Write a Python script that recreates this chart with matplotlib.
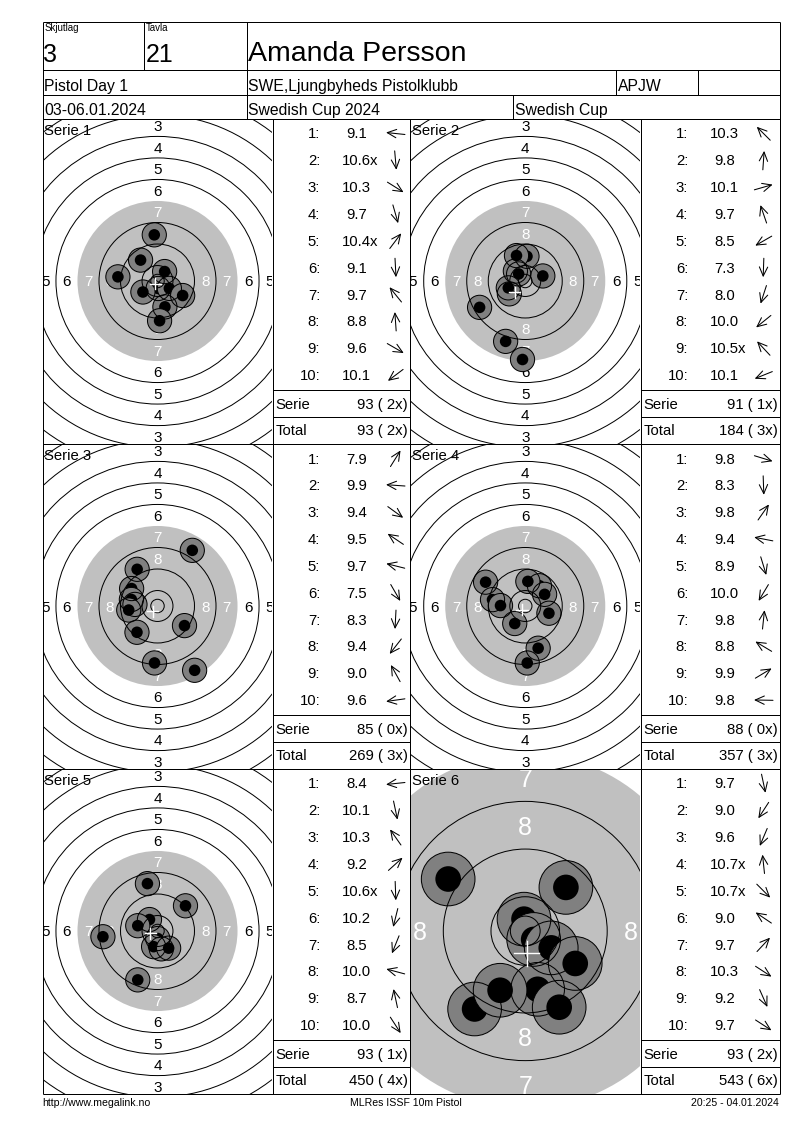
import numpy as np
import matplotlib.pyplot as plt
from matplotlib.patches import Circle

plt.rcParams['font.family'] = ['Liberation Sans', 'DejaVu Sans']

# header / footer texts
relay = "3"
lane = "21"
shooter = "Amanda Persson"
event = "Pistol Day 1"
club = "SWE,Ljungbyheds Pistolklubb"
short_code = "APJW"
dates = "03-06.01.2024"
competition = "Swedish Cup 2024"
cup = "Swedish Cup"
footer_left = "http://www.megalink.no"
footer_mid = "MLRes ISSF 10m Pistol"
footer_right = "20:25 - 04.01.2024"

# shots: decimal score ('x' = inner ten) and direction of the hit from the centre (deg)
s1_scores = ["9.1", "10.6x", "10.3", "9.7", "10.4x", "9.1", "9.7", "8.8", "9.6", "10.1"]
s1_angles = [174, -85, -32, -74, 53, -87, 129, 94, -30, -143]
s2_scores = ["10.3", "9.8", "10.1", "9.7", "8.5", "7.3", "8.0", "10.0", "10.5x", "10.1"]
s2_angles = [135, 86, 16, 109, -150, -92, -108, -141, 133, -158]
s3_scores = ["7.9", "9.9", "9.4", "9.5", "9.7", "7.5", "8.3", "9.4", "9.0", "9.6"]
s3_angles = [58, 176, -36, 146, 166, -60, -93, -128, 119, -172]
s4_scores = ["9.8", "8.3", "9.8", "9.4", "8.9", "10.0", "9.8", "8.8", "9.9", "9.8"]
s4_angles = [-17, -88, 55, 169, -73, -121, 84, 149, 31, 179]
s5_scores = ["8.4", "10.1", "10.3", "9.2", "10.6x", "10.2", "8.5", "10.0", "8.7", "10.0"]
s5_angles = [-174, -78, 125, 42, -88, -104, -112, 165, 102, -57]
s6_scores = ["9.7", "9.0", "9.6", "10.7x", "10.7x", "9.0", "9.7", "10.3", "9.2", "9.7"]
s6_angles = [-78, -123, -113, 96, -45, 146, 47, -33, -66, -33]

series_scores = [s1_scores, s2_scores, s3_scores, s4_scores, s5_scores, s6_scores]
series_angles = [s1_angles, s2_angles, s3_angles, s4_angles, s5_angles, s6_angles]

W, H = 800, 1130
LEFT, RIGHT, TOP, BOTTOM = 42.5, 779.5, 21.5, 1093.5
PANEL_H = 325
GRAY = '#c0c0c0'
SHOT = '#808080'
LW = 0.72
FS = 10.7


def ring_radius(n):
    # ISSF 10m air pistol target, mm
    return 5.75 + (10 - n) * 8.0


fig = plt.figure(figsize=(8, 11.3), dpi=100)
fig.patch.set_facecolor('white')
ax = fig.add_axes([0, 0, 1, 1])
ax.set_xlim(0, W)
ax.set_ylim(H, 0)
ax.axis('off')
ax.set_zorder(5)


def draw_target(num, box, scores, angles, scale, label_fs):
    px0, py0, px1, py1 = box
    tax = fig.add_axes([px0 / W, 1 - py1 / H, (px1 - px0) / W, (py1 - py0) / H])
    hw = (px1 - px0) / 2 / scale
    hh = (py1 - py0) / 2 / scale
    tax.set_xlim(-hw, hw)
    tax.set_ylim(-hh, hh)
    tax.axis('off')

    tax.add_patch(Circle((0, 0), ring_radius(7), facecolor=GRAY, lw=0, zorder=1))

    # ring numbers (only those that fall inside the panel)
    for n in range(1, 9):
        rm = ring_radius(n) - 4
        col = 'white' if n >= 7 else 'black'
        for dx, dy in [(0, 1), (0, -1), (1, 0), (-1, 0)]:
            if abs(dx * rm) > hw or abs(dy * rm) > hh:
                continue
            t = tax.text(dx * rm, dy * rm, str(n), ha='center', va='center_baseline',
                         fontsize=label_fs, color=col, zorder=2)
            t.set_clip_on(True)

    tax.text(px0 + 1.5, py0 + 16.5, "Serie %d" % num, transform=ax.transData,
             fontsize=FS, va='baseline', ha='left', zorder=2)

    vals = [float(s.rstrip('x')) for s in scores]
    d = (10.95 - np.array(vals)) * 8.0
    a = np.radians(angles)
    xs = d * np.cos(a)
    ys = d * np.sin(a)
    for x, y in zip(xs, ys):
        tax.add_patch(Circle((x, y), 4.5, facecolor=SHOT, lw=0, zorder=3))
        tax.add_patch(Circle((x, y), 2.15, facecolor='black', lw=0, zorder=3))
    for x, y in zip(xs, ys):
        tax.add_patch(Circle((x, y), 4.5, fill=False, edgecolor='black', lw=LW, zorder=4))

    for n in [1, 2, 3, 4, 5, 6, 8, 9, 10]:
        tax.add_patch(Circle((0, 0), ring_radius(n), fill=False, edgecolor='black', lw=LW, zorder=5))
    tax.add_patch(Circle((0, 0), 2.5, fill=False, edgecolor='black', lw=LW, zorder=5))

    # mean point of impact
    mx, my = xs.mean(), ys.mean()
    tax.plot([mx - 2.1, mx + 2.1], [my, my], color='white', lw=1.0, zorder=6)
    tax.plot([mx, mx], [my - 2.1, my + 2.1], color='white', lw=1.0, zorder=6)


def draw_table(box, scores, angles, serie_sum, serie_x, total_sum, total_x):
    x0, y0, x1, y1 = box
    for i, (s, ang) in enumerate(zip(scores, angles)):
        yb = y0 + 20 + i * 26.85
        ax.text(x0 + 47.7, yb, "%d:" % (i + 1), ha='right', va='baseline', fontsize=FS)
        if s.endswith('x'):
            ax.text(x0 + 69.5, yb, s, ha='left', va='baseline', fontsize=FS)
        else:
            ax.text(x0 + 84, yb, s, ha='center', va='baseline', fontsize=FS)
        cx, cy = x0 + 123, y0 + 15 + i * 26.85
        dx = np.cos(np.radians(ang)) * 9.5
        dy = -np.sin(np.radians(ang)) * 9.5
        ax.annotate('', xy=(cx + dx, cy + dy), xytext=(cx - dx, cy - dy),
                    arrowprops=dict(arrowstyle='->,head_length=0.65,head_width=0.3',
                                    lw=0.75, color='black', shrinkA=0, shrinkB=0,
                                    mutation_scale=10))
    ax.hlines([y0 + 271.7, y0 + 298.4], x0, x1, color='black', lw=LW)
    ax.text(x0 + 3, y0 + 290.7, "Serie", ha='left', va='baseline', fontsize=FS)
    ax.text(x1 - 2, y0 + 290.7, "%d ( %dx)" % (serie_sum, serie_x), ha='right', va='baseline', fontsize=FS)
    ax.text(x0 + 3, y0 + 316.7, "Total", ha='left', va='baseline', fontsize=FS)
    ax.text(x1 - 2, y0 + 316.7, "%d ( %dx)" % (total_sum, total_x), ha='right', va='baseline', fontsize=FS)


total_sum = 0
total_x = 0
for k in range(6):
    row, col = k // 2, k % 2
    y0 = 118.5 + row * PANEL_H
    y1 = y0 + PANEL_H
    if col == 0:
        tbox = (LEFT, y0, 272.5, y1)
        sbox = (272.5, y0, 410, y1)
    else:
        tbox = (410, y0, 640.5, y1)
        sbox = (640.5, y0, RIGHT, y1)
    scores = series_scores[k]
    if k == 5:
        draw_target(k + 1, tbox, scores, series_angles[k], 5.96, 18)
    else:
        draw_target(k + 1, tbox, scores, series_angles[k], 2.69, 11)
    serie_sum = sum(int(float(s.rstrip('x'))) for s in scores)
    serie_x = sum(1 for s in scores if s.endswith('x'))
    total_sum += serie_sum
    total_x += serie_x
    draw_table(sbox, scores, series_angles[k], serie_sum, serie_x, total_sum, total_x)

# grid lines
ax.hlines([TOP, 70, 95, 118.5, 443.5, 768.5, BOTTOM], LEFT, RIGHT, color='black', lw=LW)
ax.vlines([LEFT, RIGHT], TOP, BOTTOM, color='black', lw=LW)
ax.vlines(144, TOP, 70, color='black', lw=LW)
ax.vlines(246.5, TOP, 118.5, color='black', lw=LW)
ax.vlines([616, 697.5], 70, 95, color='black', lw=LW)
ax.vlines(513, 95, 118.5, color='black', lw=LW)
ax.vlines([272.5, 410, 640.5], 118.5, BOTTOM, color='black', lw=LW)

# header texts
ax.text(44.5, 23, "Skjutlag", fontsize=7, ha='left', va='top')
ax.text(146, 23, "Tavla", fontsize=7, ha='left', va='top')
ax.text(43.5, 62, relay, fontsize=18, ha='left', va='baseline')
ax.text(145.5, 62, lane, fontsize=18, ha='left', va='baseline')
ax.text(247.5, 61, shooter, fontsize=20.5, ha='left', va='baseline')
ax.text(44, 91, event, fontsize=11.3, ha='left', va='baseline')
ax.text(248, 91, club, fontsize=11.3, ha='left', va='baseline')
ax.text(618, 91, short_code, fontsize=11.3, ha='left', va='baseline')
ax.text(44, 115, dates, fontsize=11.3, ha='left', va='baseline')
ax.text(248, 115, competition, fontsize=11.3, ha='left', va='baseline')
ax.text(515, 115, cup, fontsize=11.3, ha='left', va='baseline')

# footer
ax.text(42, 1106, footer_left, fontsize=7.6, ha='left', va='baseline')
ax.text(406, 1106, footer_mid, fontsize=7.6, ha='center', va='baseline')
ax.text(779, 1106, footer_right, fontsize=7.6, ha='right', va='baseline')

fig.savefig('out.png', dpi=100, facecolor='white')
